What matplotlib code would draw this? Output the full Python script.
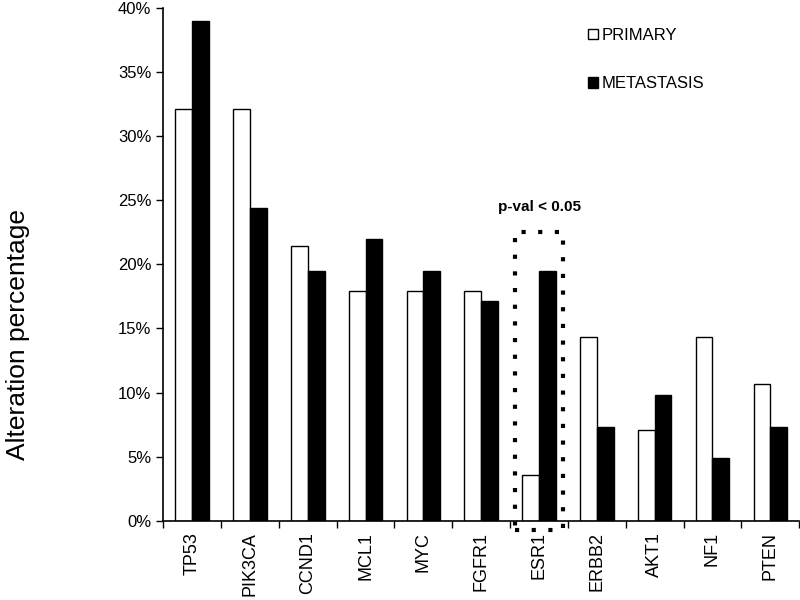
import numpy as np
import matplotlib.pyplot as plt
from matplotlib.patches import Rectangle
from matplotlib.ticker import PercentFormatter

genes = ['TP53', 'PIK3CA', 'CCND1', 'MCL1', 'MYC', 'FGFR1', 'ESR1', 'ERBB2', 'AKT1', 'NF1', 'PTEN']
primary = [32.1, 32.1, 21.4, 17.9, 17.9, 17.9, 3.6, 14.3, 7.1, 14.3, 10.7]
metastasis = [39.0, 24.4, 19.5, 22.0, 19.5, 17.1, 19.5, 7.3, 9.8, 4.9, 7.3]

plt.rcParams['font.family'] = ['Liberation Sans', 'DejaVu Sans']

fig = plt.figure(figsize=(8, 6), dpi=100)
ax = fig.add_axes([0.204, 0.132, 0.795, 0.855])

x = np.arange(len(genes))
w = 0.29
ax.bar(x - w / 2, primary, w, color='white', edgecolor='black', linewidth=1, label='PRIMARY')
ax.bar(x + w / 2, metastasis, w, color='black', edgecolor='black', linewidth=1, label='METASTASIS')

ax.set_xlim(-0.5, len(genes) - 0.5)
ax.set_ylim(0, 40)
ax.set_yticks(np.arange(0, 41, 5))
ax.yaxis.set_major_formatter(PercentFormatter(decimals=0))
ax.tick_params(axis='y', direction='out', length=5, width=1, labelsize=12)

ax.set_xticks(x)
ax.set_xticklabels(genes, rotation=90, fontsize=13)
ax.tick_params(axis='x', which='major', length=0, pad=8)
ax.set_xticks(np.arange(-0.5, len(genes), 1), minor=True)
ax.tick_params(axis='x', which='minor', direction='out', length=5, width=1)

for s in ['top', 'right']:
    ax.spines[s].set_visible(False)
ax.spines['left'].set_linewidth(1.2)
ax.spines['bottom'].set_linewidth(1.2)

# y label sits lower than the axes centre in the original
fig.text(0.022, 0.442, 'Alteration percentage', rotation=90, fontsize=19,
         ha='center', va='center')

# dotted box around ESR1
i = genes.index('ESR1')
box = Rectangle((i - 0.41, -0.7), 0.82, 23.2, fill=False, edgecolor='black',
                linestyle=(0, (1, 3)), linewidth=3, clip_on=False)
ax.add_patch(box)
ax.text(i, 23.9, 'p-val < 0.05', ha='center', va='bottom', fontsize=11, fontweight='bold')

ax.legend(loc='upper left', bbox_to_anchor=(0.645, 0.99), frameon=False, fontsize=12,
          handlelength=0.6, handleheight=0.6, handletextpad=0.2, labelspacing=2.0)

fig.savefig('out.png', dpi=100)
